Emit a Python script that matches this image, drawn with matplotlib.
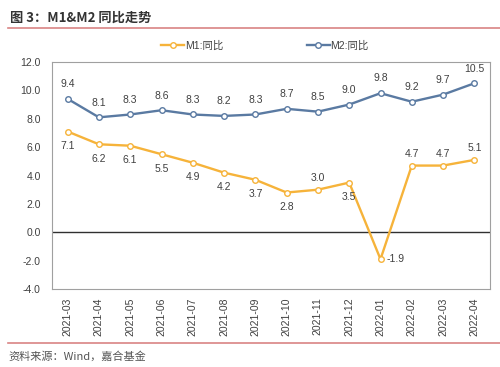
import matplotlib.pyplot as plt
import numpy as np
from matplotlib.lines import Line2D

plt.rcParams['font.family'] = ['Liberation Sans', 'Noto Sans CJK SC']

months = ["2021-03", "2021-04", "2021-05", "2021-06", "2021-07", "2021-08", "2021-09",
          "2021-10", "2021-11", "2021-12", "2022-01", "2022-02", "2022-03", "2022-04"]
m1 = [7.1, 6.2, 6.1, 5.5, 4.9, 4.2, 3.7, 2.8, 3.0, 3.5, -1.9, 4.7, 4.7, 5.1]
m2 = [9.4, 8.1, 8.3, 8.6, 8.3, 8.2, 8.3, 8.7, 8.5, 9.0, 9.8, 9.2, 9.7, 10.5]
# where each M1 label sits: below / above / right
m1_pos = ["b", "b", "b", "b", "b", "b", "b", "b", "a", "b", "r", "a", "a", "a"]

c1 = "#F6B33A"
c2 = "#5A7AA2"
txt = "#404040"

fig = plt.figure(figsize=(5, 3.67), dpi=100)
ax = fig.add_axes([52 / 500, 1 - 289 / 367, 438 / 500, 227 / 367])

x = np.arange(len(months))
ax.plot(x, m1, color=c1, lw=1.7, marker="o", ms=4, mfc="white", mec=c1, mew=1, zorder=3)
ax.plot(x, m2, color=c2, lw=1.7, marker="o", ms=4, mfc="white", mec=c2, mew=1, zorder=3)
ax.axhline(0, color="#303030", lw=1, zorder=2)

for i, v in enumerate(m2):
    ax.annotate(f"{v:.1f}", (i, v), xytext=(0, 7), textcoords="offset points",
                ha="center", va="bottom", fontsize=7.5, color=txt)
for i, v in enumerate(m1):
    p = m1_pos[i]
    if p == "a":
        ax.annotate(f"{v:.1f}", (i, v), xytext=(0, 5), textcoords="offset points",
                    ha="center", va="bottom", fontsize=7.5, color=txt)
    elif p == "r":
        ax.annotate(f"{v:.1f}", (i, v), xytext=(4, 0), textcoords="offset points",
                    ha="left", va="center", fontsize=7.5, color=txt)
    else:
        ax.annotate(f"{v:.1f}", (i, v), xytext=(0, -7), textcoords="offset points",
                    ha="center", va="top", fontsize=7.5, color=txt)

ax.set_xlim(-0.5, len(months) - 0.5)
ax.set_ylim(-4, 12)
ax.set_yticks(np.arange(-4, 12.1, 2))
ax.set_yticklabels([f"{t:.1f}" for t in np.arange(-4, 12.1, 2)])
ax.set_xticks(x)
ax.set_xticklabels(months, rotation=90)
ax.tick_params(axis="both", length=0, labelsize=7.5, labelcolor=txt)
ax.tick_params(axis="y", pad=8)
ax.tick_params(axis="x", pad=6)
for s in ax.spines.values():
    s.set_color("#A0A0A0")
    s.set_linewidth(0.8)

handles = [Line2D([], [], color=c1, lw=1.7, marker="o", ms=4, mfc="white", mec=c1),
           Line2D([], [], color=c2, lw=1.7, marker="o", ms=4, mfc="white", mec=c2)]
fig.legend(handles, ["M1:同比", "M2:同比"], loc="center", bbox_to_anchor=(0.53, 1 - 46 / 367),
           ncol=2, frameon=False, fontsize=7.5, handlelength=2.2, handletextpad=0.1,
           columnspacing=8, labelcolor=txt)

fig.text(10 / 500, 1 - 18 / 367, "图 3：M1&M2 同比走势", fontsize=9.5, fontweight="bold",
         color="#333333", va="center", family=["Noto Sans CJK SC", "DejaVu Sans"])
fig.add_artist(Line2D([8 / 500, 1], [1 - 28 / 367] * 2, color="#D98484", lw=1.2))
fig.add_artist(Line2D([8 / 500, 1], [1 - 343 / 367] * 2, color="#D98484", lw=1.2))
fig.text(8 / 500, 1 - 356 / 367, "资料来源：Wind，嘉合基金", fontsize=8, color="#555555",
         va="center", family=["Noto Sans CJK SC", "DejaVu Sans"])

fig.savefig("out.png", dpi=100)
